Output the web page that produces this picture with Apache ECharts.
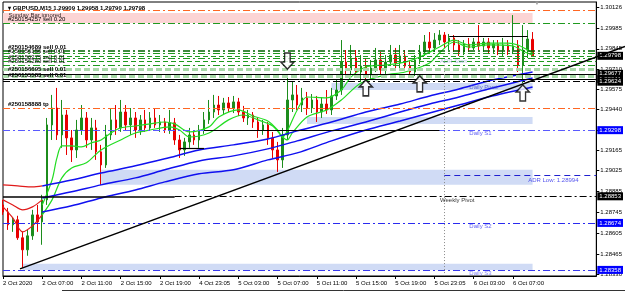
<!DOCTYPE html>
<html>
<head>
<meta charset="utf-8">
<script src="https://cdn.jsdelivr.net/npm/echarts@6/dist/echarts.min.js"></script>
<style>
html, body { margin: 0; padding: 0; background: #fff; }
#main { width: 625px; height: 292px; }
</style>
</head>
<body>
<div id="main"></div>
<script>
// time labels, one every 8 bars
const timeLabels = ['2 Oct 2020', '2 Oct 07:00', '2 Oct 11:00', '2 Oct 15:00', '2 Oct 19:00', '4 Oct 23:05',
  '5 Oct 03:00', '5 Oct 07:00', '5 Oct 11:00', '5 Oct 15:00', '5 Oct 19:00', '5 Oct 23:05', '6 Oct 03:00', '6 Oct 07:00'];

// price ticks shown on the right scale
const priceTicks = [1.30126, 1.29985, 1.29845, 1.29710, 1.29575, 1.29440, 1.29300, 1.29165,
  1.29025, 1.28885, 1.28745, 1.28605, 1.28465, 1.28330];

// candles
const opens = [1.28795, 1.28748, 1.28661, 1.28695, 1.28574, 1.28493, 1.28587, 1.28728, 1.28681, 1.28829,
  1.29333, 1.29447, 1.29266, 1.29400, 1.29246, 1.29165, 1.29299, 1.29380, 1.29232, 1.29313,
  1.29152, 1.29064, 1.29266, 1.29367, 1.29313, 1.29420, 1.29333, 1.29380, 1.29299, 1.29367,
  1.29313, 1.29380, 1.29333, 1.29353, 1.29299, 1.29347, 1.29232, 1.29165, 1.29219, 1.29266,
  1.29232, 1.29299, 1.29367, 1.29420, 1.29467, 1.29434, 1.29481, 1.29447, 1.29488, 1.29420,
  1.29380, 1.29400, 1.29353, 1.29299, 1.29333, 1.29246, 1.29165, 1.29098, 1.29266, 1.29501,
  1.29535, 1.29467, 1.29515, 1.29447, 1.29501, 1.29420, 1.29474, 1.29434, 1.29528, 1.29568,
  1.29756, 1.29703, 1.29783, 1.29689, 1.29729, 1.29669, 1.29716, 1.29770, 1.29703, 1.29756,
  1.29803, 1.29750, 1.29797, 1.29729, 1.29689, 1.29770, 1.29824, 1.29891, 1.29851, 1.29904,
  1.29938, 1.29891, 1.29918, 1.29871, 1.29824, 1.29877, 1.29851, 1.29891, 1.29864, 1.29891,
  1.29851, 1.29877, 1.29837, 1.29871, 1.29837, 1.29864, 1.29736, 1.29837, 1.29909];
const closes = [1.28748, 1.28661, 1.28695, 1.28574, 1.28493, 1.28587, 1.28728, 1.28681, 1.28829, 1.29333,
  1.29447, 1.29266, 1.29400, 1.29246, 1.29165, 1.29299, 1.29380, 1.29232, 1.29313, 1.29152,
  1.29064, 1.29266, 1.29367, 1.29313, 1.29420, 1.29333, 1.29380, 1.29299, 1.29367, 1.29313,
  1.29380, 1.29333, 1.29353, 1.29299, 1.29347, 1.29232, 1.29165, 1.29219, 1.29266, 1.29232,
  1.29299, 1.29367, 1.29420, 1.29467, 1.29434, 1.29481, 1.29447, 1.29488, 1.29420, 1.29380,
  1.29400, 1.29353, 1.29299, 1.29333, 1.29246, 1.29165, 1.29098, 1.29266, 1.29501, 1.29535,
  1.29467, 1.29515, 1.29447, 1.29501, 1.29420, 1.29474, 1.29434, 1.29528, 1.29568, 1.29756,
  1.29703, 1.29783, 1.29689, 1.29729, 1.29669, 1.29716, 1.29770, 1.29703, 1.29756, 1.29803,
  1.29750, 1.29797, 1.29729, 1.29689, 1.29770, 1.29824, 1.29891, 1.29851, 1.29904, 1.29938,
  1.29891, 1.29918, 1.29871, 1.29824, 1.29877, 1.29851, 1.29891, 1.29864, 1.29891, 1.29851,
  1.29877, 1.29837, 1.29871, 1.29837, 1.29864, 1.29736, 1.29837, 1.29911, 1.29798];
const lows = [1.28728, 1.28627, 1.28614, 1.28560, 1.28372, 1.28453, 1.28560, 1.28614, 1.28527, 1.28795,
  1.29232, 1.29232, 1.29179, 1.29131, 1.29084, 1.29111, 1.29266, 1.29179, 1.29165, 1.29098,
  1.28930, 1.29044, 1.29232, 1.29266, 1.29286, 1.29299, 1.29266, 1.29246, 1.29266, 1.29286,
  1.29299, 1.29313, 1.29286, 1.29279, 1.29273, 1.29199, 1.29111, 1.29125, 1.29179, 1.29199,
  1.29179, 1.29273, 1.29340, 1.29380, 1.29400, 1.29407, 1.29420, 1.29413, 1.29393, 1.29353,
  1.29333, 1.29313, 1.29246, 1.29266, 1.29199, 1.29111, 1.29017, 1.29044, 1.29232, 1.29420,
  1.29434, 1.29420, 1.29400, 1.29413, 1.29353, 1.29380, 1.29407, 1.29400, 1.29501, 1.29535,
  1.29649, 1.29669, 1.29649, 1.29622, 1.29635, 1.29642, 1.29689, 1.29669, 1.29676, 1.29729,
  1.29716, 1.29703, 1.29703, 1.29662, 1.29662, 1.29743, 1.29797, 1.29824, 1.29824, 1.29871,
  1.29851, 1.29837, 1.29824, 1.29797, 1.29803, 1.29824, 1.29837, 1.29837, 1.29824, 1.29810,
  1.29817, 1.29803, 1.29797, 1.29803, 1.29810, 1.29689, 1.29615, 1.29783, 1.29790];
const highs = [1.28829, 1.28775, 1.28708, 1.28722, 1.28614, 1.28627, 1.28762, 1.28795, 1.28863, 1.29380,
  1.29535, 1.29582, 1.29501, 1.29434, 1.29299, 1.29367, 1.29467, 1.29420, 1.29380, 1.29367,
  1.29199, 1.29333, 1.29447, 1.29467, 1.29501, 1.29467, 1.29447, 1.29420, 1.29400, 1.29434,
  1.29420, 1.29447, 1.29400, 1.29380, 1.29434, 1.29380, 1.29266, 1.29246, 1.29313, 1.29299,
  1.29333, 1.29420, 1.29501, 1.29535, 1.29528, 1.29515, 1.29521, 1.29528, 1.29515, 1.29461,
  1.29434, 1.29420, 1.29380, 1.29367, 1.29353, 1.29286, 1.29219, 1.29313, 1.29649, 1.29622,
  1.29602, 1.29582, 1.29555, 1.29541, 1.29528, 1.29521, 1.29568, 1.29582, 1.29635, 1.29904,
  1.29837, 1.29871, 1.29837, 1.29803, 1.29783, 1.29770, 1.29851, 1.29824, 1.29803, 1.29871,
  1.29851, 1.29871, 1.29837, 1.29770, 1.29803, 1.29871, 1.29938, 1.29958, 1.29951, 1.29971,
  1.29958, 1.29945, 1.29938, 1.29904, 1.29904, 1.29918, 1.29918, 1.30005, 1.29918, 1.29918,
  1.29904, 1.29904, 1.29918, 1.29904, 1.30072, 1.29904, 1.30005, 1.29971, 1.29958];

// moving average lines, read as [bar, price]
const red1 = [[0, 1.28930], [3, 1.28923], [6, 1.28916], [8, 1.28923]];
const red2 = [[0, 1.28829], [2, 1.28795], [4, 1.28762], [6, 1.28782], [8, 1.28829]];
const red3 = [[0, 1.28782], [2, 1.28708], [4, 1.28614], [6, 1.28654], [8, 1.28728]];
const fastMa = [[8, 1.28795], [10, 1.28963], [11, 1.29111], [12, 1.29192], [14, 1.29192], [16, 1.29185],
  [18, 1.29212], [20, 1.29232], [22, 1.29279], [24, 1.29313], [27, 1.29326], [30, 1.29340], [33, 1.29353],
  [35, 1.29340], [38, 1.29286], [42, 1.29320], [44, 1.29387], [48, 1.29434], [51, 1.29393], [54, 1.29360],
  [56, 1.29299], [57, 1.29252], [58, 1.29293], [60, 1.29434], [62, 1.29521], [66, 1.29515], [69, 1.29568],
  [71, 1.29656], [74, 1.29723], [78, 1.29736], [82, 1.29756], [85, 1.29790], [89, 1.29857], [92, 1.29904],
  [95, 1.29871], [99, 1.29884], [103, 1.29884], [105, 1.29871], [107, 1.29837], [108, 1.29817]];
const slowMa = [[8, 1.28728], [10, 1.28829], [12, 1.28977], [14, 1.29044], [17, 1.29078], [20, 1.29165],
  [24, 1.29232], [27, 1.29279], [30, 1.29299], [34, 1.29320], [36, 1.29299], [38, 1.29252], [42, 1.29279],
  [46, 1.29367], [49, 1.29400], [52, 1.29367], [55, 1.29326], [57, 1.29252], [58, 1.29232], [59, 1.29279],
  [62, 1.29387], [66, 1.29434], [69, 1.29501], [73, 1.29615], [78, 1.29669], [82, 1.29689], [87, 1.29750],
  [89, 1.29817], [92, 1.29891], [95, 1.29857], [99, 1.29871], [104, 1.29864], [106, 1.29830], [108, 1.29803]];
const blueBars = [8, 14, 20, 27, 33, 40, 47, 54, 60, 67, 74, 81, 87, 93, 99, 108];
const blue1 = [1.28923, 1.28963, 1.29010, 1.29058, 1.29105, 1.29165, 1.29199, 1.29239, 1.29293, 1.29353,
  1.29420, 1.29474, 1.29528, 1.29575, 1.29629, 1.29689];
const blue2 = [1.28842, 1.28883, 1.28930, 1.28977, 1.29031, 1.29091, 1.29125, 1.29172, 1.29226, 1.29293,
  1.29353, 1.29420, 1.29474, 1.29521, 1.29575, 1.29649];
const blue3 = [1.28748, 1.28789, 1.28842, 1.28896, 1.28950, 1.29004, 1.29031, 1.29098, 1.29145, 1.29226,
  1.29299, 1.29360, 1.29414, 1.29467, 1.29521, 1.29588];

// trade levels
const orderPrices = [1.30018, 1.29830, 1.29817, 1.29798, 1.29783, 1.29763, 1.29736];
const orderTickets = ['#250154257 sell 0.20', '#250154689 sell 0.01', '', '#250156156 sell 0.01', '',
  '#250156275 sell 0.01', '#250156280 sell 0.01'];
const tpPrices = [1.30106, 1.29447];
const blackPrices = [1.29677, 1.29641, 1.29624];
const blackTickets = ['#250156695 sell 0.01', '#250155583 sell 0.01', ''];
const zonePrices = [1.29710, 1.29662];
const pivotS = [1.29298, 1.28674, 1.28358];
const weeklyPivot = 1.28853;
const adrLow = 1.28994;
const boxPrices = [1.29798, 1.29677, 1.29641, 1.29624, 1.29298, 1.28853, 1.28674, 1.28358];

// shaded zones [startBar, endBar, top, bottom]
const bandStart = [0, 67, 62, 20, 4];
const bandEnd = [108, 108, 108, 108, 108];
const bandTop = [1.30086, 1.29615, 1.29387, 1.29031, 1.28399];
const bandBottom = [1.30018, 1.29568, 1.29340, 1.28930, 1.28358];

// arrows and trend line
const arrowBars = [58, 74, 85, 106];
const arrowPrices = [1.29763, 1.29582, 1.29609, 1.29548];
const arrowDown = [true, false, false, false];
const trendBars = [3.85, 126.5];
const trendPrices = [1.28365, 1.29861];

// text notes on the chart
const noteText = ['Sunday Bar ignored', 'ADR Start', 'Daily Pivot', 'Daily S1', 'ADR Low: 1.28994',
  'Weekly Pivot', 'Daily S2', 'Daily S3'];
const noteBar = [1, 89, 95, 95, 107, 89, 95, 95];
const notePrice = [1.30072, 1.29763, 1.29588, 1.29279, 1.28963, 1.28829, 1.28648, 1.28336];

const FONT = 'Liberation Sans';
const N = 122;
const YMIN = 1.28317, YMAX = 1.30160;
const categories = Array.from({ length: N }, (_, i) => String(i));
const candles = opens.map((o, i) => [o, closes[i], lows[i], highs[i]]);
const dashDot = [7, 3, 2, 3];

const ticketLabel = (txt, bold) => txt ? {
  show: true, position: 'insideStartTop', distance: [5, 1], formatter: txt,
  fontSize: 6, fontFamily: FONT, color: '#000', fontWeight: bold ? 'bold' : 'normal'
} : { show: false };

// a horizontal line between two bars
const seg = (b0, b1, price, style, label) => [
  { coord: [b0, price], lineStyle: style, label: label || { show: false } },
  { coord: [b1, price] }
];
const full = (price, style, label) => seg(0, N - 1, price, style, label);

const lines = [];
tpPrices.forEach((p, i) => lines.push(full(p, { color: '#ff6622', type: dashDot, width: 1 },
  ticketLabel(i === 1 ? '#250158888 tp' : '', true))));
orderPrices.forEach((p, i) => lines.push(full(p,
  { color: i === 1 ? '#006400' : '#1f9a1f', type: i % 2 === 0 || i === 1 ? dashDot : [5, 3], width: i === 1 ? 1.5 : 1 },
  ticketLabel(orderTickets[i], i === 1))));
zonePrices.forEach(p => lines.push(full(p, { color: '#a8d8a8', type: [6, 3], width: 3 })));
blackPrices.forEach((p, i) => lines.push(full(p,
  { color: '#000', type: i === 2 ? dashDot : 'solid', width: 1 },
  ticketLabel(blackTickets[i], true))));
lines.push(full(pivotS[0], { color: '#5a5aff', type: dashDot, width: 1.2 }));
lines.push(full(pivotS[1], { color: '#2a2af0', type: dashDot, width: 1.2 }));
lines.push(full(pivotS[2], { color: '#3a3af0', type: dashDot, width: 1.2 }));
lines.push(seg(0, 35, weeklyPivot, { color: '#000', type: 'solid', width: 1.5 }));
lines.push(seg(35, N - 1, weeklyPivot, { color: '#000', type: dashDot, width: 1 }));
lines.push(seg(90, N - 1, adrLow, { color: '#2020d0', type: [6, 4], width: 1 }));
lines.push(seg(91, 107, 1.29931, { color: '#000', type: 'solid', width: 1.2 }));
lines.push(seg(41, 89, 1.29299, { color: '#000', type: 'solid', width: 1.2 }));
lines.push(seg(36, 41, 1.29179, { color: '#000', type: 'solid', width: 1.2 }));
lines.push([{ coord: [90, 1.29756], lineStyle: { color: '#8a8a8a', type: [1, 2], width: 1 }, label: { show: false } },
  { coord: [90, YMIN] }]);
// price boxes on the scale
boxPrices.forEach((p, i) => lines.push(full(p, { color: 'rgba(0,0,0,0)', width: 1 }, {
  show: true, position: 'end', distance: 1, formatter: p.toFixed(5), fontSize: 6, fontFamily: FONT,
  color: '#fff', backgroundColor: [4, 6, 7].includes(i) ? '#0000ff' : '#000', padding: [1, 2, 1, 2]
})));

const bands = bandStart.map((b, i) => [
  { coord: [b, bandTop[i]], itemStyle: { color: i === 0 ? '#fcd4d4' : 'rgba(196,210,242,0.8)' } },
  { coord: [bandEnd[i], bandBottom[i]] }
]);

const maLine = (data, color, width) => ({
  type: 'line', data, showSymbol: false, symbol: 'none', smooth: 0.3, z: 4,
  lineStyle: { color, width }, silent: true
});
const noteColors = ['#000', '#9db0d8', '#3b47c9', '#3c3cf0', '#2a2ae8', '#000', '#3c3cf0', '#6a6af0'];

const option = {
  animation: false,
  backgroundColor: '#fff',
  textStyle: { fontFamily: FONT },
  title: {
    text: '{a|▾ GBPUSD,M15}{b| 1.29909 1.29958 1.29790 1.29798}', left: 3, top: 0,
    textStyle: { rich: { a: { fontSize: 6, fontWeight: 'bold', color: '#000', fontFamily: FONT },
      b: { fontSize: 6, color: '#000', fontFamily: FONT } } }
  },
  grid: [
    { left: 1, right: 27, top: 2, bottom: 16, show: true, borderColor: '#000', borderWidth: 1 },
    { left: 1, right: 0, top: 2, bottom: 16, show: false }
  ],
  xAxis: [{
    type: 'category', data: categories, boundaryGap: false,
    axisLine: { lineStyle: { color: '#000' } },
    axisTick: { length: 3, lineStyle: { color: '#000' }, interval: i => i % 8 === 0 && i / 8 < timeLabels.length },
    axisLabel: { interval: i => i % 8 === 0 && i / 8 < timeLabels.length, align: 'left', margin: 4,
      fontSize: 6, color: '#000', formatter: (v, i) => timeLabels[i / 8] || '' },
    splitLine: { show: false }
  }, {
    type: 'value', gridIndex: 1, min: 0, max: 126.5, show: false
  }],
  yAxis: [{
    type: 'value', position: 'right', min: YMIN, max: YMAX,
    axisLine: { show: true, lineStyle: { color: '#000' } },
    axisTick: { show: true, length: 3, lineStyle: { color: '#000' }, customValues: priceTicks },
    axisLabel: { customValues: priceTicks, margin: 4, fontSize: 6, color: '#000', formatter: v => v.toFixed(5) },
    splitLine: { show: false }
  }, {
    type: 'value', gridIndex: 1, min: YMIN, max: YMAX, show: false
  }],
  visualMap: {
    type: 'piecewise', show: false, dimension: 0, seriesIndex: [4, 5],
    pieces: [{ lt: 51, color: '#22dd22' }, { gte: 51, lte: 59, color: '#e01010' },
      { gt: 59, lt: 104, color: '#22dd22' }, { gte: 104, color: '#e01010' }]
  },
  series: [
    {
      type: 'candlestick', data: candles, barWidth: 2, z: 3,
      itemStyle: { color: '#1c8c1c', color0: '#e80000', borderColor: '#1c8c1c', borderColor0: '#e80000', borderWidth: 1 },
      markLine: { symbol: ['none', 'none'], silent: true, animation: false, label: { show: false }, data: lines },
      markArea: { silent: true, data: bands }
    },
    maLine(red1, '#e01a1a', 1.2),
    maLine(red2, '#e01a1a', 1.2),
    maLine(red3, '#e01a1a', 1.2),
    maLine(slowMa, '#22dd22', 1.2),
    maLine(fastMa, '#22dd22', 1.2),
    maLine(blueBars.map((b, i) => [b, blue1[i]]), '#1010f0', 1.5),
    maLine(blueBars.map((b, i) => [b, blue2[i]]), '#1010f0', 1.5),
    maLine(blueBars.map((b, i) => [b, blue3[i]]), '#1010f0', 1.5),
    {
      type: 'scatter', z: 6, silent: true,
      symbol: 'path://M7,0 L14,7 L10,7 L10,16 L4,16 L4,7 L0,7 Z', symbolSize: [13, 16],
      itemStyle: { color: '#fff', borderColor: '#000', borderWidth: 1.5 },
      data: arrowBars.map((b, i) => ({ value: [b, arrowPrices[i]], symbolRotate: arrowDown[i] ? 180 : 0 }))
    },
    {
      type: 'scatter', z: 6, silent: true, symbolSize: 1, itemStyle: { color: 'transparent' },
      data: noteText.map((t, i) => ({
        value: [noteBar[i], notePrice[i]],
        label: { show: true, position: 'right', distance: 0, formatter: t, fontSize: 6, fontFamily: FONT, color: noteColors[i] }
      }))
    },
    {
      type: 'line', xAxisIndex: 1, yAxisIndex: 1, z: 5, silent: true, symbol: 'none',
      lineStyle: { color: '#000', width: 1.5 },
      data: trendBars.map((b, i) => [b, trendPrices[i]])
    }
  ],
  graphic: [
    { type: 'text', left: 534, top: 0, style: { text: '▼', fontSize: 6, fill: '#999' } },
    { type: 'line', shape: { x1: 62, y1: 290.5, x2: 625, y2: 290.5 }, style: { stroke: '#333', lineWidth: 1 } }
  ]
};

const chart = echarts.init(document.getElementById('main'));
chart.setOption(option);
</script>
</body>
</html>
